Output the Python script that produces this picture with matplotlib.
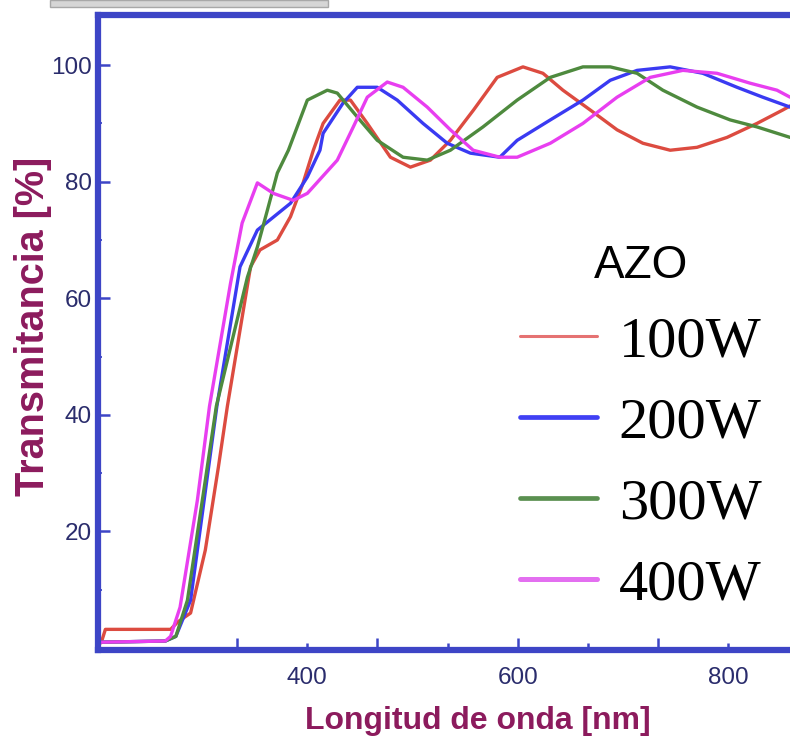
import matplotlib
matplotlib.use("Agg")
import matplotlib.pyplot as plt
from matplotlib.patches import Rectangle

# Transmittance spectra of AZO films sputtered at different powers
wl_100 = [204, 208, 270, 277, 289, 303, 315.4, 324, 346, 355, 371.5, 384, 396, 405.7,
          415, 431, 441, 457, 479, 498, 517, 536, 558, 580.5, 605, 624, 643, 669,
          694.5, 719, 745, 770.5, 799, 827.5, 852, 859]
t_100 = [0.9, 3.2, 3.2, 4.5, 6.0, 16.8, 31.0, 41.5, 65.4, 68.3, 70.0, 74.0, 79.8, 85.4,
         90.0, 94.0, 94.0, 90.0, 84.2, 82.5, 83.7, 87.1, 92.3, 97.9, 99.7, 98.6, 95.7, 92.3,
         88.9, 86.6, 85.4, 85.9, 87.6, 90.0, 92.3, 93.0]

wl_200 = [204, 265, 275, 289, 314, 336, 352.5, 384, 400, 412, 415, 434, 447.5, 466.5,
          485.5, 510, 533, 555, 583, 599.5, 631, 662, 688, 713.5, 745, 776, 808.5,
          833, 859]
t_200 = [1.0, 1.2, 2.0, 8.2, 41.5, 65.4, 71.7, 76.3, 80.8, 85.4, 88.3, 93.5, 96.2, 96.2,
         94.0, 90.0, 86.6, 84.9, 84.2, 87.1, 90.6, 94.0, 97.4, 99.1, 99.7, 98.6, 96.2,
         94.5, 92.8]

wl_300 = [204, 265, 275, 286, 313.5, 343, 352.5, 362, 371.5, 382, 400, 419, 428.5,
          447.5, 466.5, 491, 514, 536, 567, 599.5, 631, 662, 688, 713.5, 738, 770.5,
          802, 827.5, 859]
t_300 = [1.0, 1.2, 2.0, 8.2, 41.5, 63.6, 68.8, 75.1, 81.5, 85.4, 94.0, 95.7, 95.2,
         91.1, 87.1, 84.2, 83.7, 85.4, 89.4, 94.0, 97.9, 99.7, 99.7, 98.6, 95.7, 92.8,
         90.6, 89.4, 87.6]

wl_400 = [204, 265, 270, 279, 295.5, 307, 327, 338, 352.5, 367.7, 386.7, 400, 428.5,
          443.7, 457, 476, 491, 514, 536, 557.7, 583, 599.5, 631, 662, 694.5, 726, 757,
          789.5, 821, 846.5, 859]
t_400 = [1.0, 1.2, 2.0, 7.0, 25.4, 41.5, 62.6, 72.9, 79.8, 78.0, 76.8, 78.0, 83.7,
         89.4, 94.5, 97.1, 96.2, 92.8, 88.9, 85.4, 84.2, 84.2, 86.6, 90.0, 94.5, 97.9,
         99.1, 98.6, 96.9, 95.7, 94.5]

series_labels = ["100W", "200W", "300W", "400W"]
series_colors = ["#dc4b40", "#3a3af2", "#4e8a3e", "#e83ef0"]
legend_colors = ["#e57272", "#4040f4", "#5a9050", "#e36ff0"]
legend_widths = [2.2, 3.4, 3.4, 3.6]

xtick_pos = [333.3, 400, 466.7, 533.3, 600, 666.7, 733.3, 800]
xtick_text = ["", "400", "", "", "600", "", "", "800"]
xtick_long = [True, False, True, False, True, False, True, False]
ytick_major = [20, 40, 60, 80, 100]
ytick_minor = [10, 30, 50, 70, 90]

axis_blue = "#3d45c6"
label_maroon = "#8c1b5d"
tick_navy = "#2a2c6c"

fig = plt.figure(figsize=(7.9, 7.41), dpi=100)
ax = fig.add_axes([97.5 / 790, 91 / 741, 692.5 / 790, 635 / 741])

# grey strip along the top edge
fig.patches.append(Rectangle((50 / 790, 734 / 741), 278 / 790, 7 / 741,
                             transform=fig.transFigure, facecolor="#d6d6d6",
                             edgecolor="#a8a8a8", linewidth=1.0, zorder=0))

for wl, t, lab, col in zip([wl_100, wl_200, wl_300, wl_400],
                           [t_100, t_200, t_300, t_400],
                           series_labels, series_colors):
    ax.plot(wl, t, color=col, lw=2.4, label=lab, solid_capstyle="round")

ax.set_xlim(200.5, 858.9)
ax.set_ylim(-0.34, 108.6)

for side in ["left", "bottom", "top"]:
    ax.spines[side].set_color(axis_blue)
    ax.spines[side].set_linewidth(4.5)
ax.spines["right"].set_visible(False)

ax.set_xticks(xtick_pos)
ax.set_xticklabels(xtick_text)
ax.set_yticks(ytick_major)
ax.set_yticks(ytick_minor, minor=True)
ax.tick_params(axis="both", which="both", direction="in", color=axis_blue,
               labelcolor=tick_navy, labelsize=17.5)
ax.tick_params(axis="x", which="major", width=1.8, pad=12)
ax.tick_params(axis="y", which="major", length=8.5, width=1.8, pad=4)
ax.tick_params(axis="y", which="minor", length=3, width=1.3)
ax.tick_params(top=False, right=False, which="both")
for tk, is_long in zip(ax.xaxis.get_major_ticks(), xtick_long):
    tk.tick1line.set_markersize(8.5 if is_long else 5)
for lbl in ax.get_xticklabels() + ax.get_yticklabels():
    lbl.set_fontfamily("Liberation Sans")

ax.set_xlabel("Longitud de onda [nm]", fontsize=23, fontweight="bold",
              color=label_maroon, family="Liberation Sans")
ax.set_ylabel("Transmitancia [%]", fontsize=28.5, fontweight="bold",
              color=label_maroon, family="Liberation Sans")
ax.xaxis.set_label_coords(0.549, -0.088)
ax.yaxis.set_label_coords(-0.066, 0.51)

leg = ax.legend(loc="upper left", bbox_to_anchor=(520 / 790, 1 - 244 / 741),
                bbox_transform=fig.transFigure, frameon=False,
                prop={"family": "Liberation Serif", "size": 42},
                title="AZO", title_fontproperties={"family": "Liberation Sans", "size": 33},
                handlelength=1.32, handletextpad=0.37, labelspacing=0.48,
                borderpad=0, borderaxespad=0)
for ln, c, w in zip(leg.get_lines(), legend_colors, legend_widths):
    ln.set_color(c)
    ln.set_linewidth(w)

fig.savefig("out.png", dpi=100)
